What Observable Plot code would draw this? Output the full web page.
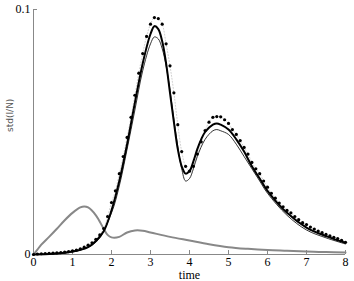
<!DOCTYPE html>
<html>
<head>
<meta charset="utf-8">
<script src="https://cdn.jsdelivr.net/npm/d3@7"></script>
<script src="https://cdn.jsdelivr.net/npm/@observablehq/plot@0.6"></script>
<style>
  html, body { margin: 0; padding: 0; background: #fff; }
  #chart { width: 354px; height: 281px; }
  #chart svg text { font-family: "Liberation Serif", "Times New Roman", serif !important; }
  #chart svg .ylab text { font-family: "DejaVu Sans", sans-serif !important; }
</style>
</head>
<body>
<div id="chart"></div>
<script>
// Dotted series (sampled every 0.1 time unit)
const dotTimes = d3.range(0, 81).map(i => +(i / 10).toFixed(1));
const dotValues = [
  0, 0.0002, 0.0003, 0.0004, 0.0005, 0.0006, 0.0007, 0.0008, 0.001, 0.0012,
  0.0015, 0.0018, 0.0023, 0.003, 0.0038, 0.0048, 0.0062, 0.008, 0.0106, 0.0155,
  0.0212, 0.026, 0.033, 0.040, 0.0478, 0.056, 0.065, 0.074, 0.082, 0.089,
  0.094, 0.0967, 0.0963, 0.094, 0.086, 0.077, 0.066, 0.053, 0.042, 0.036,
  0.034, 0.036, 0.041, 0.046, 0.0506, 0.054, 0.056, 0.0563, 0.0562, 0.055,
  0.0535, 0.051, 0.049, 0.0465, 0.0437, 0.041, 0.0376, 0.035, 0.033, 0.030,
  0.0275, 0.025, 0.023, 0.021, 0.0195, 0.018, 0.017, 0.0155, 0.0142, 0.013,
  0.0122, 0.0112, 0.0104, 0.0096, 0.0089, 0.0082, 0.0076, 0.007, 0.0065, 0.0058,
  0.005
];

// Thick black curve
const thickTimes  = [0, 0.5, 1.0, 1.4, 1.6, 1.8, 2.0, 2.2, 2.4, 2.6, 2.8, 3.0, 3.1, 3.2, 3.3, 3.4, 3.5, 3.6, 3.7, 3.8, 3.9, 4.0, 4.1, 4.2, 4.3, 4.4, 4.6, 4.7, 4.8, 5.0, 5.2, 5.4, 5.6, 5.8, 6.0, 6.5, 7.0, 7.5, 8.0];
const thickValues = [0, 0.0003, 0.0012, 0.003, 0.0055, 0.0095, 0.018, 0.030, 0.045, 0.062, 0.078, 0.090, 0.0932, 0.092, 0.087, 0.078, 0.066, 0.054, 0.043, 0.036, 0.033, 0.034, 0.038, 0.043, 0.047, 0.050, 0.053, 0.0535, 0.053, 0.051, 0.047, 0.042, 0.036, 0.031, 0.026, 0.017, 0.011, 0.0075, 0.0048];

// Thin black curve
const thinTimes  = [0, 1.0, 1.6, 2.0, 2.2, 2.4, 2.6, 2.8, 3.0, 3.1, 3.2, 3.3, 3.4, 3.5, 3.6, 3.7, 3.8, 3.9, 4.0, 4.1, 4.2, 4.4, 4.6, 4.7, 4.8, 5.0, 5.2, 5.4, 5.6, 5.8, 6.0, 6.5, 7.0, 7.5, 8.0];
const thinValues = [0, 0.001, 0.005, 0.017, 0.028, 0.043, 0.059, 0.075, 0.086, 0.0888, 0.088, 0.084, 0.077, 0.067, 0.055, 0.044, 0.035, 0.030, 0.031, 0.035, 0.040, 0.047, 0.0505, 0.051, 0.0505, 0.049, 0.045, 0.040, 0.035, 0.030, 0.025, 0.016, 0.010, 0.0068, 0.0043];

// Grey curve
const greyTimes  = [0, 0.1, 0.2, 0.4, 0.6, 0.8, 1.0, 1.2, 1.3, 1.4, 1.6, 1.8, 1.9, 2.0, 2.2, 2.4, 2.6, 2.8, 3.0, 3.5, 4.0, 4.5, 5.0, 5.5, 6.0, 6.5, 7.0, 7.5, 8.0];
const greyValues = [0, 0.002, 0.004, 0.0072, 0.0105, 0.014, 0.017, 0.0192, 0.0196, 0.0192, 0.016, 0.0105, 0.008, 0.007, 0.0072, 0.009, 0.0098, 0.0097, 0.009, 0.0072, 0.0057, 0.0042, 0.003, 0.0023, 0.0018, 0.0015, 0.0012, 0.001, 0.0008];

const xTicks = [0, 1, 2, 3, 4, 5, 6, 7, 8];
const yTicks = [0, 0.1];
const yTickLabels = ["0", "0.1"];

const dots  = dotTimes.map((t, i) => ({t, v: dotValues[i]}));
const thick = thickTimes.map((t, i) => ({t, v: thickValues[i]}));
const thin  = thinTimes.map((t, i) => ({t, v: thinValues[i]}));
const grey  = greyTimes.map((t, i) => ({t, v: greyValues[i]}));

const serif = "Liberation Serif, Times New Roman, serif";

const chart = Plot.plot({
  width: 354,
  height: 281,
  marginLeft: 33,
  marginRight: 9,
  marginTop: 9,
  marginBottom: 27,
  style: {fontFamily: serif, fontSize: "12px", background: "#fff", color: "#000"},
  x: {domain: [0, 8]},
  y: {domain: [0, 0.1]},
  marks: [
    Plot.ruleY([0], {stroke: "#888", strokeWidth: 1}),
    Plot.ruleX([0], {y1: 0, y2: 0.1, stroke: "#888", strokeWidth: 1}),
    Plot.axisX({ticks: xTicks.slice(1), tickSize: -4, stroke: "#888", tickFormat: () => "", label: null}),
    Plot.axisX({ticks: xTicks, tickSize: 0, tickPadding: 3, label: null, fontSize: 12, fontFamily: serif}),
    Plot.text(["time"], {frameAnchor: "bottom", dy: 24, fontSize: 12, fontFamily: serif}),
    Plot.axisY({ticks: [0.1], tickSize: -4, stroke: "#888", tickFormat: () => "", label: null}),
    Plot.axisY({ticks: yTicks, tickSize: 0, tickPadding: 3, tickFormat: (d) => yTickLabels[yTicks.indexOf(d)], label: null, fontSize: 12, fontFamily: serif}),
    Plot.text(["std(I/N)"], {frameAnchor: "left", rotate: -90, dx: -23, fontSize: 9, fill: "#555", className: "ylab"}),
    Plot.line(grey, {x: "t", y: "v", stroke: "#888", strokeWidth: 2, curve: "catmull-rom"}),
    Plot.line(dots, {x: "t", y: "v", stroke: "#aaa", strokeWidth: 0.6, strokeDasharray: "1,2", curve: "catmull-rom"}),
    Plot.line(thin, {x: "t", y: "v", stroke: "#000", strokeWidth: 0.8, curve: "catmull-rom"}),
    Plot.line(thick, {x: "t", y: "v", stroke: "#000", strokeWidth: 2, curve: "catmull-rom"}),
    Plot.dot(dots, {x: "t", y: "v", r: 1.6, fill: "#000", stroke: "none"})
  ]
});
document.getElementById("chart").appendChild(chart);
</script>
</body>
</html>
